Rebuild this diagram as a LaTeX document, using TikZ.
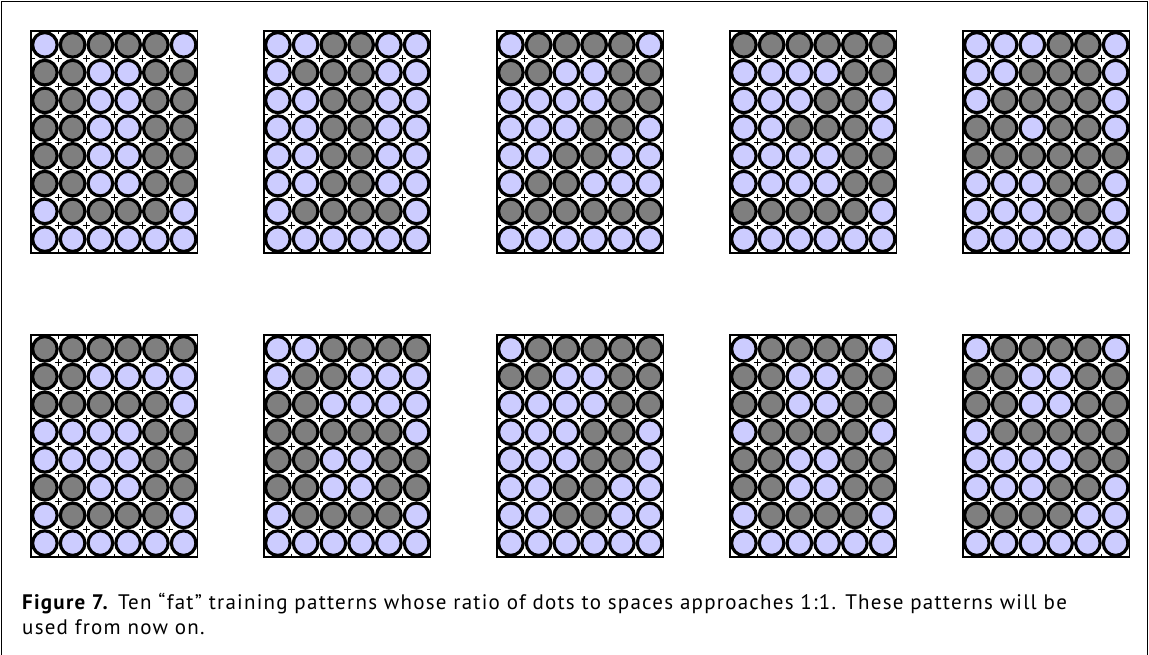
\documentclass[tikz,border=0pt]{standalone}
\usepackage{fontspec}
\setmainfont{PT Sans}[LetterSpace=5.9]
\definecolor{dotOn}{HTML}{CCCCFF}
\definecolor{dotOff}{HTML}{7F7F7F}

\begin{document}
\begin{tikzpicture}[x=1pt,y=-1pt,
    dot/.style={draw=black, line width=3.2pt},
    cross/.style={line width=0.9pt},
    figcaption/.style={font=\fontsize{21}{25}\selectfont, align=left, inner sep=0pt}]
  \useasboundingbox (0,0) rectangle (1149,655);
  % frame of the figure
  \draw[line width=1pt] (1.5,655) -- (1.5,1.5) -- (1147.5,1.5) -- (1147.5,655);
  % the ten training patterns, 6 x 8 dots each (1 = light, 0 = dark)
  \foreach \pat/\ox/\oy in {
      {1,0,0,0,0,1, 0,0,1,1,0,0, 0,0,1,1,0,0, 0,0,1,1,0,0, 0,0,1,1,0,0, 0,0,1,1,0,0, 1,0,0,0,0,1, 1,1,1,1,1,1}/31/31,
      {1,1,0,0,1,1, 1,0,0,0,1,1, 1,1,0,0,1,1, 1,1,0,0,1,1, 1,1,0,0,1,1, 1,1,0,0,1,1, 1,0,0,0,0,1, 1,1,1,1,1,1}/264/31,
      {1,0,0,0,0,1, 0,0,1,1,0,0, 1,1,1,1,0,0, 1,1,1,0,0,1, 1,1,0,0,1,1, 1,0,0,1,1,1, 0,0,0,0,0,0, 1,1,1,1,1,1}/497/31,
      {0,0,0,0,0,0, 1,1,1,1,0,0, 1,1,1,0,0,1, 1,1,0,0,0,1, 1,1,1,1,0,0, 1,1,1,1,0,0, 0,0,0,0,0,1, 1,1,1,1,1,1}/730/31,
      {1,1,1,0,0,1, 1,1,0,0,0,1, 1,0,0,0,0,1, 0,0,1,0,0,1, 0,0,0,0,0,0, 1,1,1,0,0,1, 1,1,1,0,0,1, 1,1,1,1,1,1}/963/31,
      {0,0,0,0,0,0, 0,0,1,1,1,1, 0,0,0,0,0,1, 1,1,1,1,0,0, 1,1,1,1,0,0, 0,0,1,1,0,0, 1,0,0,0,0,1, 1,1,1,1,1,1}/31/335,
      {1,1,0,0,0,0, 1,0,0,1,1,1, 0,0,1,1,1,1, 0,0,0,0,0,1, 0,0,1,1,0,0, 0,0,1,1,0,0, 1,0,0,0,0,1, 1,1,1,1,1,1}/264/335,
      {1,0,0,0,0,0, 0,0,1,1,0,0, 1,1,1,1,0,0, 1,1,1,0,0,1, 1,1,1,0,0,1, 1,1,0,0,1,1, 1,1,0,0,1,1, 1,1,1,1,1,1}/497/335,
      {1,0,0,0,0,1, 0,0,1,1,0,0, 0,0,1,1,0,0, 1,0,0,0,0,1, 0,0,1,1,0,0, 0,0,1,1,0,0, 1,0,0,0,0,1, 1,1,1,1,1,1}/730/335,
      {1,0,0,0,0,1, 0,0,1,1,0,0, 0,0,1,1,0,0, 1,0,0,0,0,0, 1,1,1,1,0,0, 1,1,1,0,0,1, 0,0,0,0,1,1, 1,1,1,1,1,1}/963/335}
  {
    \begin{scope}[shift={(\ox,\oy)}]
      \foreach \v [count=\i from 0] in \pat {
        \pgfmathtruncatemacro{\col}{mod(\i,6)}
        \pgfmathtruncatemacro{\row}{div(\i,6)}
        \ifnum\v=1 \def\dotcol{dotOn}\else \def\dotcol{dotOff}\fi
        \draw[dot, fill=\dotcol] (27.75*\col+13.875, 27.75*\row+13.875) circle (12.3pt);
      }
      \begin{scope}
        \clip (0,0) rectangle (166.5,222);
        \foreach \c in {0,...,6}
          \foreach \r in {0,...,8}
            \draw[cross] (27.75*\c-3.5,27.75*\r) -- ++(7,0)
                         (27.75*\c,27.75*\r-3.5) -- ++(0,7);
      \end{scope}
      \draw[line width=1.2pt] (0,0) rectangle (166.5,222);
    \end{scope}
  }
  \node[figcaption, anchor=north west] (caption) at (22,593)
    {\textbf{Figure 7.} Ten “fat” training patterns whose ratio of dots to spaces approaches 1:1. These patterns will be\\
     used from now on.};
\end{tikzpicture}
\end{document}
